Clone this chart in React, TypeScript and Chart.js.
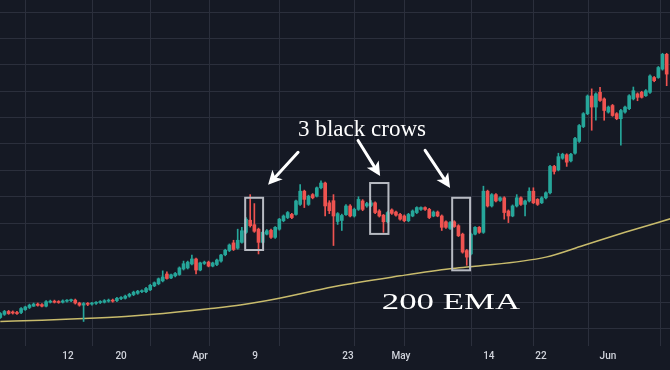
import React, { useEffect, useRef } from 'react';
import { Chart, registerables } from 'chart.js';

Chart.register(...registerables);

// Candle values (one per session)
const opens = [
  104.2, 105.4, 106.5, 106.3, 106.1, 106.1, 107.2, 108.0, 108.5, 109.3,
  109.1, 108.5, 110.0, 110.4, 110.2, 110.0, 110.4, 110.6, 110.8, 109.7,
  108.9, 109.5, 109.3, 109.6, 109.9, 110.0, 110.4, 110.8, 110.6, 111.4,
  111.5, 112.3, 112.9, 113.4, 114.0, 114.0, 114.7, 116.2, 117.0, 118.1,
  120.7, 119.2, 120.0, 120.5, 122.6, 123.0, 124.5, 126.4, 122.2, 124.7,
  125.2, 123.7, 124.3, 125.6, 128.0, 129.6, 132.5, 130.5, 132.7, 136.5,
  141.1, 139.4, 137.7, 132.7, 135.8, 137.3, 134.6, 137.7, 140.9, 142.1,
  143.3, 143.3, 147.1, 152.1, 147.1, 150.8, 150.2, 153.4, 155.2, 147.7,
  148.5, 140.6, 141.0, 143.2, 146.5, 142.7, 145.2, 148.4, 146.5, 146.7,
  147.7, 144.6, 143.0, 140.5, 145.0, 144.2, 143.3, 142.7, 140.9, 142.7,
  144.0, 145.2, 145.9, 145.2, 142.7, 144.2, 142.7, 140.5, 138.0, 140.5,
  139.0, 135.8, 129.6, 128.3, 135.8, 138.4, 136.5, 152.1, 146.5, 150.8,
  148.6, 149.6, 144.6, 142.7, 146.5, 149.6, 147.1, 148.4, 152.1, 149.0,
  147.7, 149.6, 151.5, 161.5, 160.2, 164.6, 165.9, 163.6, 166.5, 171.0,
  176.6, 181.5, 188.2, 184.0, 189.6, 187.1, 182.1, 184.6, 181.5, 179.6,
  182.1, 183.4, 187.1, 189.0, 189.6, 188.3, 189.6, 195.2, 195.2, 198.4,
  204.0,
];
const highs = [
  106.1, 106.9, 106.9, 106.7, 106.5, 108.0, 108.5, 109.3, 109.7, 109.7,
  109.5, 110.6, 110.8, 110.8, 110.6, 110.9, 111.0, 111.2, 111.2, 110.0,
  109.9, 109.9, 110.0, 110.2, 110.6, 111.0, 111.2, 111.2, 111.9, 112.1,
  112.7, 113.4, 114.2, 114.5, 114.7, 115.6, 116.8, 117.7, 119.2, 121.9,
  121.5, 120.7, 121.3, 123.4, 125.6, 125.6, 127.9, 126.7, 125.2, 125.6,
  125.6, 125.2, 126.4, 128.2, 130.1, 132.1, 133.5, 137.7, 138.4, 142.1,
  150.8, 147.4, 138.1, 136.9, 137.5, 137.7, 138.7, 141.8, 143.1, 144.4,
  143.7, 148.7, 154.6, 152.5, 150.6, 151.2, 153.7, 156.0, 155.6, 148.5,
  150.8, 144.0, 143.4, 147.0, 147.0, 145.7, 150.0, 148.9, 147.9, 148.5,
  148.1, 145.1, 143.3, 144.4, 145.4, 144.6, 143.7, 143.1, 143.7, 145.0,
  146.2, 146.2, 146.2, 145.6, 144.6, 144.6, 143.1, 140.9, 140.6, 140.9,
  139.4, 136.2, 130.0, 136.2, 138.7, 138.7, 154.0, 152.5, 151.2, 151.2,
  150.0, 150.0, 145.0, 146.9, 150.8, 150.0, 148.7, 153.4, 153.4, 149.3,
  150.0, 151.9, 161.9, 161.9, 166.5, 166.5, 166.3, 166.5, 172.5, 177.4,
  181.9, 188.6, 190.9, 189.4, 191.5, 187.5, 184.4, 185.0, 181.9, 183.1,
  184.4, 188.7, 191.6, 189.4, 190.0, 190.6, 196.2, 195.6, 199.4, 204.4,
  204.4,
];
const lows = [
  103.9, 105.0, 105.4, 105.5, 105.4, 105.7, 106.9, 107.6, 108.4, 108.5,
  108.2, 108.2, 109.7, 109.7, 109.6, 109.7, 110.0, 110.2, 109.3, 108.5,
  102.7, 108.7, 108.9, 109.2, 109.5, 109.7, 110.0, 110.0, 110.2, 111.0,
  111.2, 111.9, 112.5, 113.0, 113.6, 113.6, 114.4, 115.9, 116.6, 117.7,
  118.7, 118.9, 119.6, 120.2, 122.2, 122.6, 124.1, 120.7, 121.9, 124.3,
  123.4, 123.4, 123.9, 125.2, 127.6, 129.2, 129.6, 130.1, 132.4, 136.1,
  138.5, 136.5, 128.3, 132.4, 135.5, 134.2, 134.2, 137.3, 140.5, 141.7,
  141.7, 143.0, 146.7, 145.9, 146.7, 149.2, 149.9, 153.0, 142.7, 143.6,
  131.5, 139.5, 137.2, 142.9, 142.3, 142.3, 144.8, 144.7, 146.0, 146.2,
  143.6, 142.3, 136.5, 140.1, 143.3, 142.6, 141.1, 140.5, 140.5, 142.4,
  143.6, 144.8, 144.8, 141.7, 142.4, 142.4, 137.2, 138.0, 137.6, 138.4,
  134.9, 128.6, 124.0, 127.9, 135.5, 136.1, 136.1, 146.1, 146.1, 148.0,
  148.2, 141.5, 140.2, 142.4, 146.1, 146.7, 142.7, 148.0, 147.4, 146.7,
  147.4, 149.2, 151.1, 158.6, 159.8, 164.2, 161.5, 163.2, 166.1, 170.6,
  176.2, 181.1, 175.2, 179.0, 186.1, 179.0, 181.7, 180.5, 179.2, 169.6,
  181.7, 183.0, 186.7, 186.4, 187.4, 188.0, 189.2, 193.6, 194.9, 198.0,
  192.1,
];
const closes = [
  105.7, 106.5, 105.7, 105.9, 105.7, 107.6, 108.2, 108.9, 109.3, 108.8,
  108.5, 110.2, 110.4, 110.0, 109.9, 110.5, 110.7, 110.9, 109.7, 108.9,
  109.5, 109.2, 109.7, 109.9, 110.2, 110.6, 110.8, 110.4, 111.5, 111.7,
  112.3, 113.0, 113.8, 114.2, 114.4, 115.2, 116.4, 117.4, 118.9, 119.6,
  119.0, 120.4, 120.9, 123.0, 124.6, 125.2, 126.4, 122.2, 124.9, 125.2,
  123.7, 124.9, 126.0, 127.9, 129.7, 131.7, 130.0, 133.5, 137.1, 141.5,
  139.0, 136.9, 132.7, 136.5, 137.1, 134.6, 138.4, 141.5, 142.7, 144.0,
  142.1, 148.4, 152.1, 149.0, 150.2, 149.6, 153.4, 155.2, 146.5, 144.7,
  142.7, 143.6, 142.9, 146.5, 142.7, 145.2, 149.0, 145.2, 147.4, 147.7,
  144.0, 142.7, 140.5, 144.0, 143.7, 143.0, 141.5, 140.9, 143.3, 144.6,
  145.9, 145.9, 145.2, 142.1, 144.2, 142.7, 138.4, 138.4, 140.2, 138.7,
  135.2, 129.0, 127.1, 135.8, 138.4, 136.5, 152.1, 146.5, 150.8, 148.4,
  149.6, 144.0, 142.7, 146.5, 149.6, 147.1, 148.4, 152.1, 147.7, 147.1,
  149.6, 151.5, 161.5, 159.6, 165.2, 166.1, 163.1, 166.1, 172.1, 177.0,
  181.5, 188.2, 184.0, 189.0, 186.5, 182.7, 184.0, 180.8, 179.6, 182.7,
  184.0, 188.3, 190.2, 187.7, 187.7, 190.2, 195.8, 194.0, 199.0, 204.0,
  196.5,
];

const emaSessions = [0, 10, 20, 30, 36, 50, 58, 67, 80, 96, 108, 114, 131, 140, 150, 161];
const emaValues = [102.7, 103.2, 103.8, 104.6, 105.3, 107.5, 109.0, 111.5, 115.9, 120.0, 122.7, 123.6, 127.1, 131.5, 136.5, 141.7];

// Time axis labels and where they sit (in session units)
const tickLabels = ['12', '20', 'Apr', '9', '23', 'May', '14', '22', 'Jun'];
const tickSessions = [16.25, 29.0, 47.95, 61.15, 83.5, 96.2, 117.3, 129.8, 145.9];
const gridSessions = [6.17, 22.2, 36.1, 50.18, 66.99, 85.16, 97.17, 113.18, 127.97, 141.17, 158.5];
const priceLines = [100, 110, 120, 130, 140, 150, 160, 170, 180, 190, 200, 210, 220];

// Annotations (data coordinates)
const crowBoxes = [
  { x0: 58.8, x1: 63.1, y0: 129.8, y1: 149.6 },
  { x0: 88.8, x1: 93.2, y0: 135.9, y1: 155.2 },
  { x0: 108.5, x1: 112.8, y0: 122.1, y1: 149.6 },
];
const crowArrows = [
  { fx: 71.5, fy: 166.85, tx: 64.3, ty: 154.5 },
  { fx: 85.9, fy: 171.35, tx: 91.2, ty: 157.85 },
  { fx: 102.0, fy: 167.6, tx: 108.0, ty: 153.35 },
];
const crowText = { text: '3 black crows', x: 71.5, y: 173.2 };
const emaText = { text: '200 EMA', x: 91.6, y: 107.6 };

const BG = '#151924';
const GRID = '#2b2f3c';
const UP = '#26a69a';
const DOWN = '#ef5350';

const annotationPlugin = {
  id: 'crowAnnotations',
  afterDatasetsDraw(chart: any) {
    const { ctx, scales } = chart;
    const xs = scales.x;
    const ys = scales.y;
    ctx.save();
    // boxes
    ctx.strokeStyle = '#b7bac2';
    ctx.lineWidth = 2;
    crowBoxes.forEach((b) => {
      const x0 = xs.getPixelForValue(b.x0);
      const x1 = xs.getPixelForValue(b.x1);
      const y0 = ys.getPixelForValue(b.y0);
      const y1 = ys.getPixelForValue(b.y1);
      ctx.strokeRect(x0, y1, x1 - x0, y0 - y1);
    });
    // arrows
    crowArrows.forEach((a) => {
      const x1 = xs.getPixelForValue(a.fx);
      const y1 = ys.getPixelForValue(a.fy);
      const x2 = xs.getPixelForValue(a.tx);
      const y2 = ys.getPixelForValue(a.ty);
      const ang = Math.atan2(y2 - y1, x2 - x1);
      const L = 14;
      const W = 7;
      const bx = x2 - Math.cos(ang) * L * 0.75;
      const by = y2 - Math.sin(ang) * L * 0.75;
      ctx.strokeStyle = '#ffffff';
      ctx.lineWidth = 3;
      ctx.lineCap = 'round';
      ctx.beginPath();
      ctx.moveTo(x1, y1);
      ctx.lineTo(bx, by);
      ctx.stroke();
      const cx = x2 - Math.cos(ang) * L;
      const cy = y2 - Math.sin(ang) * L;
      const px = -Math.sin(ang);
      const py = Math.cos(ang);
      ctx.fillStyle = '#ffffff';
      ctx.beginPath();
      ctx.moveTo(x2, y2);
      ctx.lineTo(cx + px * W, cy + py * W);
      ctx.lineTo(bx, by);
      ctx.lineTo(cx - px * W, cy - py * W);
      ctx.closePath();
      ctx.fill();
    });
    // texts
    ctx.fillStyle = '#ffffff';
    ctx.textBaseline = 'alphabetic';
    ctx.textAlign = 'left';
    ctx.font = '24px "Liberation Serif"';
    {
      const x = xs.getPixelForValue(crowText.x);
      const y = ys.getPixelForValue(crowText.y);
      ctx.save();
      ctx.translate(x, y);
      ctx.scale(0.96, 1);
      ctx.fillText(crowText.text, 0, 0);
      ctx.restore();
    }
    ctx.font = '24px "Liberation Serif"';
    {
      const x = xs.getPixelForValue(emaText.x);
      const y = ys.getPixelForValue(emaText.y);
      ctx.save();
      ctx.translate(x, y);
      ctx.scale(1.45, 1);
      ctx.fillText(emaText.text, 0, 0);
      ctx.restore();
    }
    ctx.restore();
  },
};

export default function App() {
  const canvasRef = useRef<HTMLCanvasElement | null>(null);

  useEffect(() => {
    document.body.style.margin = '0';
    document.body.style.background = BG;
    const canvas = canvasRef.current;
    if (!canvas) return;
    const sessions = opens.map((_, i) => i);
    const colors = sessions.map((i) => (closes[i] >= opens[i] ? UP : DOWN));

    const chart = new Chart(canvas, {
      type: 'bar',
      data: {
        datasets: [
          {
            type: 'line',
            label: '200 EMA',
            data: emaSessions.map((s, k) => ({ x: s, y: emaValues[k] })),
            borderColor: '#c8bb6c',
            borderWidth: 1.5,
            pointRadius: 0,
            cubicInterpolationMode: 'monotone',
            order: 3,
          } as any,
          {
            type: 'bar',
            label: 'wick',
            data: sessions.map((i) => ({ x: i, y: [lows[i], highs[i]] })),
            backgroundColor: colors,
            barThickness: 1,
            grouped: false,
            borderWidth: 0,
            order: 2,
          } as any,
          {
            type: 'bar',
            label: 'body',
            data: sessions.map((i) => ({ x: i, y: [opens[i], closes[i]] })),
            backgroundColor: colors,
            barThickness: 3,
            minBarLength: 1,
            grouped: false,
            borderWidth: 0,
            order: 1,
          } as any,
        ],
      },
      options: {
        responsive: false,
        animation: false,
        layout: { padding: { left: 0, right: 0, top: 0, bottom: 4 } },
        plugins: { legend: { display: false }, tooltip: { enabled: false } },
        scales: {
          x: {
            type: 'linear',
            min: -0.07,
            max: 160.8,
            offset: false,
            afterBuildTicks: (scale: any) => {
              const vals = [...gridSessions, ...tickSessions].sort((a, b) => a - b);
              scale.ticks = vals.map((v) => ({ value: v }));
            },
            ticks: {
              autoSkip: false,
              maxRotation: 0,
              minRotation: 0,
              padding: 4,
              color: '#d1d4dc',
              font: { family: 'Roboto', size: 10, weight: '500' },
              callback: (value: any) => {
                const k = tickSessions.indexOf(Number(value));
                return k >= 0 ? tickLabels[k] : '';
              },
            },
            grid: {
              offset: false,
              drawTicks: false,
              lineWidth: 1,
              color: (ctx: any) =>
                ctx.tick && gridSessions.includes(ctx.tick.value) ? GRID : 'rgba(0,0,0,0)',
            },
            border: { display: false },
          },
          y: {
            type: 'linear',
            min: 93.4,
            max: 224.6,
            afterBuildTicks: (scale: any) => {
              scale.ticks = priceLines.map((v) => ({ value: v }));
            },
            ticks: { display: false },
            grid: { drawTicks: false, color: GRID, lineWidth: 1 },
            border: { display: false },
          },
        },
      } as any,
      plugins: [annotationPlugin],
    });
    return () => chart.destroy();
  }, []);

  return (
    <div style={{ width: 670, height: 370, background: BG }}>
      <canvas ref={canvasRef} width={670} height={370} style={{ display: 'block' }} />
    </div>
  );
}
